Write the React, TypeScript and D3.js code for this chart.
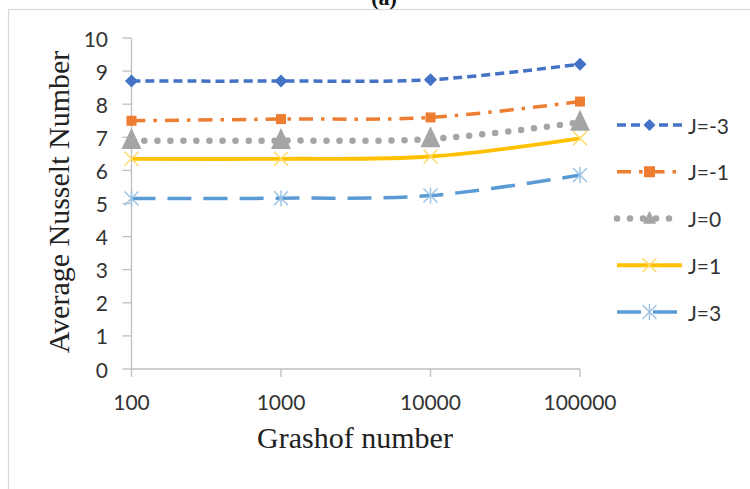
import * as d3 from 'd3';

const grashof = ['100', '1000', '10000', '100000'];
const yTicks = [0, 1, 2, 3, 4, 5, 6, 7, 8, 9, 10];

const jm3 = [8.7, 8.7, 8.74, 9.21];
const jm1 = [7.5, 7.55, 7.6, 8.08];
const j0 = [6.9, 6.9, 6.95, 7.45];
const j1 = [6.35, 6.35, 6.42, 6.97];
const j3 = [5.15, 5.16, 5.24, 5.86];

const seriesNames = ['J=-3', 'J=-1', 'J=0', 'J=1', 'J=3'];

type Marker = 'diamond' | 'square' | 'triangle' | 'x' | 'star';

const styles: { color: string; dash: string; width: number; cap: string; marker: Marker; mcolor: string }[] = [
  { color: '#4472C4', dash: '9 5', width: 3.5, cap: 'butt', marker: 'diamond', mcolor: '#4472C4' },
  { color: '#ED7D31', dash: '14 8 3.5 8', width: 3.5, cap: 'butt', marker: 'square', mcolor: '#ED7D31' },
  { color: '#A5A5A5', dash: '0 13', width: 6.5, cap: 'round', marker: 'triangle', mcolor: '#A5A5A5' },
  { color: '#FFC000', dash: '', width: 3.8, cap: 'butt', marker: 'x', mcolor: '#FFD966' },
  { color: '#5B9BD5', dash: '24 12', width: 3.5, cap: 'butt', marker: 'star', mcolor: '#9DC3E6' },
];

const data = [jm3, jm1, j0, j1, j3];

function MarkerShape({ kind, x, y, color, big }: { kind: Marker; x: number; y: number; color: string; big: boolean }) {
  if (kind === 'diamond') {
    const r = big ? 6.5 : 6;
    return <path d={`M${x},${y - r}L${x + r},${y}L${x},${y + r}L${x - r},${y}Z`} fill={color} />;
  }
  if (kind === 'square') {
    const r = big ? 5 : 5.5;
    return <rect x={x - r} y={y - r} width={2 * r} height={2 * r} fill={color} />;
  }
  if (kind === 'triangle') {
    const w = big ? 10 : 6.5;
    const h = big ? 21 : 13;
    return <path d={`M${x},${y - h * 0.6}L${x + w},${y + h * 0.4}L${x - w},${y + h * 0.4}Z`} fill={color} />;
  }
  const r = 7;
  if (kind === 'x') {
    return (
      <path d={`M${x - r},${y - r}L${x + r},${y + r}M${x - r},${y + r}L${x + r},${y - r}`} stroke={color} strokeWidth={1.5} fill="none" />
    );
  }
  return (
    <path
      d={`M${x - r},${y - r}L${x + r},${y + r}M${x - r},${y + r}L${x + r},${y - r}M${x},${y - r - 1}L${x},${y + r + 1}`}
      stroke={color}
      strokeWidth={1.5}
      fill="none"
    />
  );
}

export default function App() {
  const x = d3.scalePoint<string>().domain(grashof).range([131.5, 580]).padding(0);
  const y = d3.scaleLinear().domain([0, 10]).range([369, 38]);

  const line = d3
    .line<number>()
    .x((_, i) => x(grashof[i])!)
    .y((d) => y(d))
    .curve(d3.curveCatmullRom.alpha(0.5));

  const legendY = d3.scalePoint<string>().domain(seriesNames).range([125, 312]);
  const axisColor = '#BFBFBF';
  const sans = 'Lato, "Liberation Sans", sans-serif';
  const serif = '"Liberation Serif", "Times New Roman", serif';

  return (
    <div style={{ position: 'fixed', left: 0, top: 0 }}>
      <svg width={750} height={489} style={{ display: 'block', background: '#fff' }}>
        <rect x={8.5} y={9.5} width={800} height={600} fill="#fff" stroke="#D9D9D9" strokeWidth={1.2} />
        <text x={384} y={5} textAnchor="middle" fontFamily={serif} fontWeight="bold" fontSize={22} fill="#111">
          (a)
        </text>

        {/* axes */}
        <line x1={x('100')!} x2={x('100')!} y1={y(10)} y2={y(0)} stroke={axisColor} strokeWidth={1.3} />
        <line x1={x('100')!} x2={x('100000')!} y1={y(0)} y2={y(0)} stroke={axisColor} strokeWidth={1.3} />
        {yTicks.map((t) => (
          <g key={t}>
            <line x1={x('100')! - 9} x2={x('100')!} y1={y(t)} y2={y(t)} stroke={axisColor} strokeWidth={1.3} />
            <text x={108} y={y(t)} textAnchor="end" dominantBaseline="central" fontFamily={sans} fontSize={21} fill="#333">
              {t}
            </text>
          </g>
        ))}
        {grashof.map((g) => (
          <g key={g}>
            <line x1={x(g)!} x2={x(g)!} y1={y(0)} y2={y(0) + 8} stroke={axisColor} strokeWidth={1.3} />
            <text x={x(g)!} y={410} textAnchor="middle" fontFamily={sans} fontSize={21} fill="#333">
              {g}
            </text>
          </g>
        ))}

        <text x={355} y={448} textAnchor="middle" fontFamily={serif} fontSize={30} fill="#222">
          Grashof number
        </text>
        <text
          transform={`translate(69,202) rotate(-90)`}
          textAnchor="middle"
          fontFamily={serif}
          fontSize={30}
          fill="#222"
        >
          Average Nusselt Number
        </text>

        {/* series */}
        {data.map((vals, si) => {
          const s = styles[si];
          return (
            <g key={seriesNames[si]}>
              <path
                d={line(vals)!}
                fill="none"
                stroke={s.color}
                strokeWidth={s.width}
                strokeDasharray={s.dash || undefined}
                strokeLinecap={s.cap as any}
              />
              {vals.map((v, i) => (
                <MarkerShape key={i} kind={s.marker} x={x(grashof[i])!} y={y(v)} color={s.mcolor} big={true} />
              ))}
            </g>
          );
        })}

        {/* legend */}
        {seriesNames.map((n, si) => {
          const s = styles[si];
          const ly = legendY(n)!;
          return (
            <g key={n}>
              <line
                x1={617}
                x2={682}
                y1={ly}
                y2={ly}
                stroke={s.color}
                strokeWidth={s.width}
                strokeDasharray={s.dash || undefined}
                strokeLinecap={s.cap as any}
              />
              <MarkerShape kind={s.marker} x={649.5} y={ly} color={s.mcolor} big={false} />
              <text x={688} y={ly} dominantBaseline="central" fontFamily={sans} fontSize={21} fill="#333">
                {n}
              </text>
            </g>
          );
        })}
      </svg>
    </div>
  );
}
